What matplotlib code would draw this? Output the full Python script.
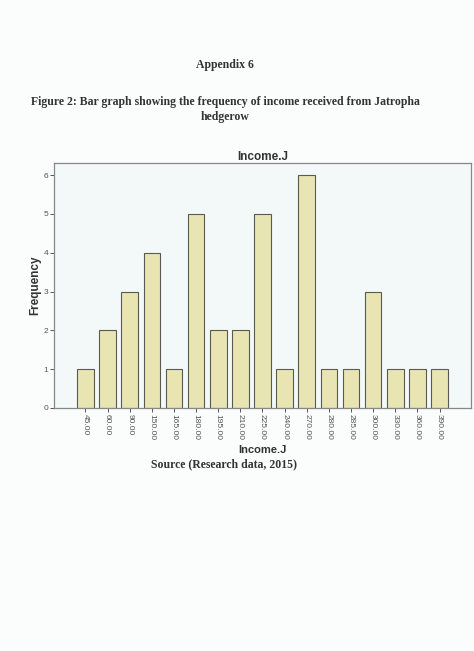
import matplotlib.pyplot as plt
import numpy as np

# income values (categories) and how often each was received
income = ["45.00", "60.00", "90.00", "150.00", "165.00", "180.00", "195.00",
          "210.00", "225.00", "240.00", "270.00", "280.00", "285.00", "300.00",
          "330.00", "360.00", "390.00"]
freq = [1, 2, 3, 4, 1, 5, 2, 2, 5, 1, 6, 1, 1, 3, 1, 1, 1]

fig = plt.figure(figsize=(4.74, 6.51), dpi=100)
fig.patch.set_facecolor('#fbfcfc')

serif = 'Liberation Serif'
fig.text(0.475, 1 - 65/651, 'Appendix 6', ha='center', va='center',
         family=serif, weight='bold', fontsize=8.5, color='#333333')
fig.text(0.475, 1 - 102/651,
         'Figure 2: Bar graph showing the frequency of income received from Jatropha',
         ha='center', va='center', family=serif, weight='bold', fontsize=8.5, color='#333333')
fig.text(0.475, 1 - 117/651, 'hedgerow', ha='center', va='center',
         family=serif, weight='bold', fontsize=8.5, color='#333333')
fig.text(0.472, 1 - 464/651, 'Source (Research data, 2015)', ha='center', va='center',
         family=serif, weight='bold', fontsize=8.5, color='#333333')

ax = fig.add_axes([54/474, 1 - 408/651, 417/474, 245/651])
ax.set_facecolor('#f3f8f9')
x = np.arange(len(income))
ax.bar(x, freq, width=0.75, color='#e8e5b3', edgecolor='#5a5a50', linewidth=0.8)

ax.set_xlim(-1.42, len(income) - 1 + 1.42)
ax.set_ylim(0, 6.31)
ax.set_yticks(range(0, 7))
ax.set_xticks(x)
ax.set_xticklabels(income, rotation=-90, fontsize=6, family='Liberation Sans', color='#444444')
ax.tick_params(axis='y', labelsize=6, length=3, width=0.7, colors='#555555', pad=1)
ax.tick_params(axis='x', length=3, width=0.7, colors='#555555', pad=1.5)
for lab in ax.get_yticklabels():
    lab.set_family('Liberation Sans')
for s in ax.spines.values():
    s.set_color('#888888')
    s.set_linewidth(0.9)

ax.set_title('Income.J', fontsize=8.5, weight='bold', family='Liberation Sans',
             color='#333333', pad=2)
ax.set_xlabel('Income.J', fontsize=8, weight='bold', family='Liberation Sans',
              color='#333333', labelpad=3)
ax.set_ylabel('Frequency', fontsize=8.5, weight='bold', family='Liberation Sans',
              color='#333333', labelpad=2)

fig.savefig('out.png', dpi=100, facecolor=fig.get_facecolor())
